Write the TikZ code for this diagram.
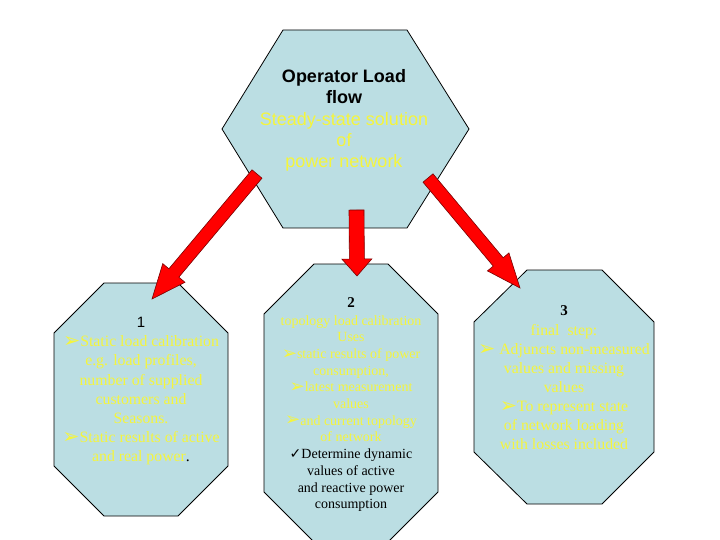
\documentclass[tikz,border=0pt]{standalone}
\usepackage{graphicx}
\usepackage{fontspec}
\setmainfont{Liberation Serif}
\newfontfamily\arialf{Liberation Sans}
\newfontfamily\dejavuf{DejaVu Sans}
\usetikzlibrary{calc}
\definecolor{boxfill}{RGB}{187,222,227}
\definecolor{yel}{RGB}{245,245,60}
\definecolor{arrowred}{RGB}{255,0,0}
\definecolor{arrowline}{RGB}{120,0,0}
\newcommand\tri{{\dejavuf\raisebox{-0.05em}{\scalebox{1.3}{\char"27A2}}}}
\newcommand\chk{{\dejavuf\char"2713}}
\newcommand\blockarrow[5]{%
  \coordinate (hb) at ($(#2)!#5!(#1)$);
  \draw[blockarrowstyle] ($(#1)!#3!90:(#2)$) -- ($(hb)!#3!90:(#2)$) -- ($(hb)!#4!90:(#2)$) -- (#2)
    -- ($(hb)!#4!-90:(#2)$) -- ($(hb)!#3!-90:(#2)$) -- ($(#1)!#3!-90:(#2)$) -- cycle;}
\begin{document}
\begin{tikzpicture}[x=1pt,y=-1pt,
  shapebox/.style={fill=boxfill,draw=black,line width=0.8pt},
  blockarrowstyle/.style={fill=arrowred,draw=arrowline,line width=0.6pt,line join=miter},
  hexline/.style={anchor=base,inner sep=0pt,font=\arialf\fontsize{18}{21}\selectfont},
  octA/.style={anchor=base,inner sep=0pt,font=\fontsize{15.8}{19}\selectfont},
  octB/.style={anchor=base,inner sep=0pt,font=\fontsize{14}{17}\selectfont},
  octC/.style={anchor=base,inner sep=0pt,font=\fontsize{15.8}{19}\selectfont}]
\fill[white] (0,0) rectangle (720,540);
\useasboundingbox (0,0) rectangle (720,540);
% hexagon
\draw[shapebox] (283,30) coordinate (hexTL) -- (407,30) -- (469,129) -- (407,228) -- (283,228) -- (222,129) -- cycle;
% octagons
\draw[shapebox] (104,283) -- (178,283) -- (228,333) -- (228,466) -- (178,516) -- (104,516) -- (54,466) -- (54,333) -- cycle;
\draw[shapebox] (314,264) -- (388,264) -- (438,314) -- (438,492) -- (388,542) -- (314,542) -- (264,492) -- (264,314) -- cycle;
\draw[shapebox] (527,270) -- (602,270) -- (654,322) -- (654,452) -- (602,504) -- (527,504) -- (474,452) -- (474,322) -- cycle;
% arrows
\coordinate (aLtail) at (257,174); \coordinate (aLtip) at (152,299);
\coordinate (aMtail) at (356.5,210); \coordinate (aMtip) at (357,276);
\coordinate (aRtail) at (428,178); \coordinate (aRtip) at (520,288);
\blockarrow{aLtail}{aLtip}{6.5pt}{14.5pt}{34pt}
\blockarrow{aMtail}{aMtip}{7.5pt}{15pt}{17pt}
\blockarrow{aRtail}{aRtip}{6.5pt}{14pt}{34pt}
% hexagon text
\foreach \yy/\lc/\txt [count=\i] in {
  82.7/black/{\bfseries Operator Load},
  103.9/black/{\bfseries flow},
  125.2/yel/{Steady-state solution},
  146.5/yel/{of},
  167.8/yel/{power network}}
  \node[hexline,text=\lc] (hx\i) at (344,\yy) {\txt};
% octagon 1 text
\foreach \yy/\lc/\txt [count=\i] in {
  327.3/black/{\arialf\fontsize{15}{18}\selectfont 1},
  346.7/yel/{\tri Static load calibration},
  365.9/yel/{e.g. load profiles,},
  385.1/yel/{number of supplied},
  404.3/yel/{customers and},
  423.5/yel/{Seasons.},
  442.7/yel/{\tri Static results of active},
  461.9/black/{\textcolor{yel}{and real power}.}}
  \node[octA,text=\lc] (oa\i) at (141,\yy) {\txt};
% octagon 2 text
\foreach \yy/\lc/\txt [count=\i] in {
  307.7/black/{\bfseries\fontsize{15}{18}\selectfont 2},
  325/yel/{topology load calibration},
  341.7/yel/{Uses},
  358.4/yel/{\tri static results of power},
  375.1/yel/{consumption,},
  391.8/yel/{\tri latest measurement},
  408.5/yel/{values},
  425.2/yel/{\tri and current topology},
  441.9/yel/{of network},
  458.6/black/{\chk Determine dynamic},
  475.3/black/{values of active},
  492/black/{and reactive power},
  508.7/black/{consumption}}
  \node[octB,text=\lc] (ob\i) at (351,\yy) {\txt};
% octagon 3 text
\foreach \yy/\lc/\txt [count=\i] in {
  315.7/black/{\bfseries\fontsize{15}{18}\selectfont 3},
  335.7/yel/{final\ \ step:},
  354.7/yel/{\tri\ Adjuncts non-measured},
  373.7/yel/{values and missing},
  392.7/yel/{values},
  411.7/yel/{\tri To represent state},
  430.7/yel/{of network loading},
  449.7/yel/{with losses included}}
  \node[octC,text=\lc] (oc\i) at (564,\yy) {\txt};
\end{tikzpicture}
\end{document}
